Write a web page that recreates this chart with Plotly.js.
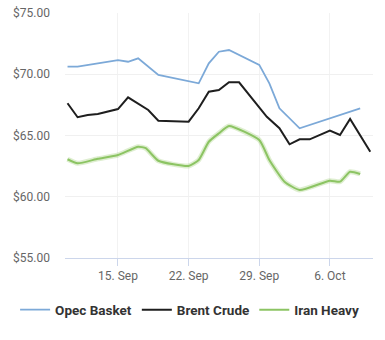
<!DOCTYPE html>
<html>
<head>
<meta charset="utf-8">
<script src="https://cdn.plot.ly/plotly-3.0.1.min.js"></script>
<style>html,body{margin:0;padding:0;background:#fff;}#chart{width:385px;height:340px;}</style>
</head>
<body>
<div id="chart"></div>
<script>
const opecDates = ['2019-09-10','2019-09-11','2019-09-15','2019-09-16','2019-09-17','2019-09-18','2019-09-19','2019-09-23','2019-09-24','2019-09-25','2019-09-26','2019-09-29','2019-09-30','2019-10-01','2019-10-03','2019-10-09'];
const opecValues = [70.62,70.62,71.16,71.02,71.30,70.62,69.94,69.26,70.89,71.84,71.98,70.76,69.26,67.22,65.59,67.22];

const brentDates = ['2019-09-10','2019-09-11','2019-09-12','2019-09-13','2019-09-15','2019-09-16','2019-09-18','2019-09-19','2019-09-22','2019-09-23','2019-09-24','2019-09-25','2019-09-26','2019-09-27','2019-09-29 18:00','2019-10-01','2019-10-02','2019-10-03','2019-10-04','2019-10-06','2019-10-07','2019-10-08','2019-10-10'];
const brentValues = [67.63,66.49,66.67,66.76,67.16,68.12,67.08,66.21,66.13,67.22,68.58,68.71,69.34,69.34,66.53,65.59,64.28,64.69,64.69,65.40,65.04,66.35,63.68];

const iranDates = ['2019-09-10','2019-09-11','2019-09-13','2019-09-15','2019-09-17','2019-09-17 18:00','2019-09-19','2019-09-22','2019-09-23','2019-09-24','2019-09-25','2019-09-26','2019-09-29','2019-09-30','2019-10-01 12:00','2019-10-03','2019-10-06','2019-10-07','2019-10-08','2019-10-09'];
const iranValues = [63.06,62.73,63.10,63.41,64.09,63.96,62.94,62.51,63.00,64.49,65.18,65.78,64.63,63.00,61.23,60.55,61.31,61.23,62.04,61.86];

const xTickVals = ['2019-09-15','2019-09-22','2019-09-29','2019-10-06'];
const xTickText = ['15. Sep','22. Sep','29. Sep','6. Oct'];
const yTickVals = [55,60,65,70,75];
const yTickText = ['$55.00','$60.00','$65.00','$70.00','$75.00'];

const traces = [
  {x: opecDates, y: opecValues, name: 'Opec Basket', type: 'scatter', mode: 'lines',
   line: {color: '#7ca9d8', width: 1.8}},
  {x: brentDates, y: brentValues, name: 'Brent Crude', type: 'scatter', mode: 'lines',
   line: {color: '#1e1e1e', width: 2}},
  {x: iranDates, y: iranValues, name: 'Iran Heavy halo', type: 'scatter', mode: 'lines', showlegend: false,
   line: {color: 'rgba(160,205,120,0.35)', width: 5, shape: 'spline', smoothing: 0.5}},
  {x: iranDates, y: iranValues, name: 'Iran Heavy', type: 'scatter', mode: 'lines',
   line: {color: '#8cc463', width: 2, shape: 'spline', smoothing: 0.5}}
];

const layout = {
  width: 385, height: 340,
  margin: {l: 65, r: 12, t: 13, b: 82},
  paper_bgcolor: '#fff', plot_bgcolor: '#fff',
  font: {family: 'Roboto, "Open Sans", sans-serif', color: '#666', size: 12},
  showlegend: true,
  legend: {orientation: 'h', x: -0.162, xanchor: 'left', y: -0.212, yanchor: 'middle',
           font: {size: 13.5, color: '#333', weight: 'bold'}, tracegroupgap: 0, itemwidth: 30},
  xaxis: {type: 'date', range: ['2019-09-09 18:00','2019-10-10 06:30'],
          tickvals: xTickVals, ticktext: xTickText, showgrid: true, gridcolor: '#f2f2f2', gridwidth: 1,
          ticks: 'outside', ticklen: 7, tickcolor: '#ccd6eb', showline: true, linecolor: '#ccd6eb',
          zeroline: false, tickfont: {size: 12, color: '#666'}, fixedrange: true, automargin: false},
  yaxis: {range: [55, 75], tickvals: yTickVals, ticktext: yTickText,
          showgrid: true, gridcolor: '#f0f0f0', zeroline: false, showline: false,
          ticks: '', ticklabelstandoff: 14, tickfont: {size: 12, color: '#666'}, fixedrange: true, automargin: false}
};

Plotly.newPlot('chart', traces, layout, {displayModeBar: false, staticPlot: true});
</script>
</body>
</html>
